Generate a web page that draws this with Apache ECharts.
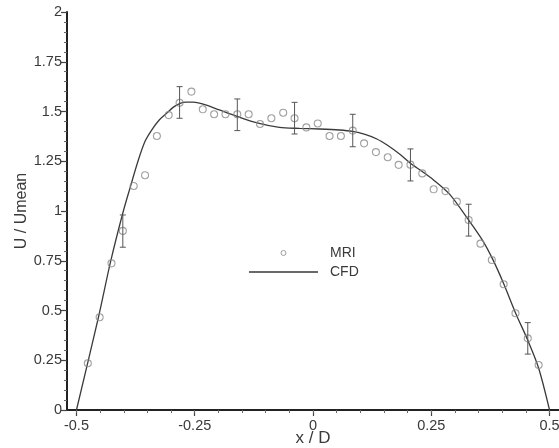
<!DOCTYPE html>
<html>
<head>
<meta charset="utf-8">
<script src="https://cdn.jsdelivr.net/npm/echarts@6/dist/echarts.min.js"></script>
<style>
html,body{margin:0;padding:0;background:#fff;}
#chart{width:559px;height:448px;}
</style>
</head>
<body>
<div id="chart"></div>
<script>
// MRI measurements
var mriX = [-0.476,-0.451,-0.426,-0.402,-0.379,-0.355,-0.330,-0.305,-0.282,-0.257,-0.233,-0.209,-0.185,-0.160,-0.136,-0.112,-0.088,-0.063,-0.039,-0.014,0.010,0.035,0.059,0.084,0.108,0.133,0.158,0.181,0.206,0.231,0.255,0.280,0.304,0.329,0.354,0.378,0.403,0.428,0.454,0.477];
var mriY = [0.235,0.466,0.737,0.90,1.126,1.18,1.377,1.482,1.544,1.60,1.511,1.486,1.486,1.486,1.486,1.437,1.466,1.494,1.466,1.42,1.44,1.377,1.377,1.404,1.34,1.296,1.27,1.232,1.233,1.189,1.109,1.10,1.047,0.955,0.836,0.754,0.632,0.486,0.36,0.226];
// error bars
var errorX = [-0.402,-0.282,-0.160,-0.039,0.084,0.206,0.329,0.454];
var errorLow = [0.818,1.466,1.404,1.387,1.323,1.151,0.874,0.281];
var errorHigh = [0.98,1.625,1.563,1.546,1.486,1.312,1.034,0.439];
// CFD profile
var cfdX = [-0.5,-0.4535,-0.428,-0.402,-0.385,-0.370,-0.355,-0.340,-0.325,-0.310,-0.295,-0.282,-0.268,-0.254,-0.240,-0.227,-0.198,-0.162,-0.120,-0.071,-0.0285,0.0137,0.056,0.0835,0.110,0.135,0.1575,0.183,0.206,0.230,0.253,0.2886,0.3288,0.359,0.380,0.4027,0.4281,0.4541,0.477,0.5];
var cfdY = [0,0.466,0.744,0.99,1.13,1.25,1.35,1.41,1.457,1.49,1.522,1.540,1.547,1.547,1.542,1.533,1.508,1.477,1.444,1.42,1.415,1.412,1.407,1.400,1.385,1.362,1.33,1.286,1.24,1.200,1.160,1.085,0.955,0.850,0.757,0.637,0.488,0.350,0.21,0];
// tick labels
var xMajorTicks = [-0.5,-0.25,0,0.25,0.5];
var xMinorTicks = [-0.5,-0.45,-0.4,-0.35,-0.3,-0.25,-0.2,-0.15,-0.1,-0.05,0,0.05,0.1,0.15,0.2,0.25,0.3,0.35,0.4,0.45,0.5];

var labelFont = 'Liberation Sans, Arial, sans-serif';
var textColor = '#3a3a3a';

var mriData = mriX.map(function(x,i){return [x, mriY[i]];});
var cfdData = cfdX.map(function(x,i){return [x, cfdY[i]];});
var errData = errorX.map(function(x,i){return [x, errorLow[i], errorHigh[i]];});

var chart = echarts.init(document.getElementById('chart'), null, {renderer:'canvas'});
var option = {
  backgroundColor:'#fff',
  animation:false,
  grid:{left:67, top:12, right:0, bottom:38, containLabel:false, outerBoundsMode:'none'},
  legend:{
    orient:'vertical', left:249, top:246, padding:0,
    itemWidth:69, itemHeight:5, itemGap:5,
    data:[
      {name:'MRI', icon:'circle', itemStyle:{color:'rgba(0,0,0,0)', borderColor:'#8a8a8a', borderWidth:1}},
      {name:'CFD', icon:'path://M0,0L0.01,0L0.01,0.01L0,0.01Z M0,1.85L69,1.85L69,3.15L0,3.15Z M0,4.99L0.01,4.99L0.01,5L0,5Z', itemStyle:{color:'#3a3a3a', borderWidth:0}}
    ],
    textStyle:{fontFamily:labelFont, fontSize:14, color:textColor, lineHeight:14, padding:[0,0,0,7]},
    selectedMode:false
  },
  xAxis:[{
    type:'value', min:-0.52, max:0.52,
    axisLine:{onZero:false, lineStyle:{color:'#222', width:2}},
    axisTick:{show:true, customValues:xMajorTicks, length:6, lineStyle:{color:'#444', width:1.2}},
    axisLabel:{customValues:xMajorTicks, fontFamily:labelFont, fontSize:14.5, color:textColor, margin:8,
      formatter:function(v){return String(v);}},
    splitLine:{show:false},
    name:'x / D', nameLocation:'middle', nameGap:20, nameMoveOverlap:false,
    nameTextStyle:{fontFamily:labelFont, fontSize:17, color:textColor}
  },{
    type:'value', min:-0.52, max:0.52, position:'bottom',
    axisLine:{show:false, onZero:false},
    axisTick:{show:true, customValues:xMinorTicks, length:3, lineStyle:{color:'#666', width:1}},
    axisLabel:{show:false},
    splitLine:{show:false}
  }],
  yAxis:{
    type:'value', min:0, max:2, interval:0.25,
    axisLine:{show:true, onZero:false, lineStyle:{color:'#222', width:2}},
    axisTick:{show:true, length:6, lineStyle:{color:'#444', width:1.2}},
    minorTick:{show:true, splitNumber:5, length:3, lineStyle:{color:'#666', width:1}},
    axisLabel:{fontFamily:labelFont, fontSize:14.5, color:textColor, margin:5,
      formatter:function(v){return String(v);}},
    splitLine:{show:false},
    name:'U / Umean', nameLocation:'middle', nameGap:37, nameRotate:90, nameMoveOverlap:false,
    nameTextStyle:{fontFamily:labelFont, fontSize:16, color:textColor}
  },
  series:[{
    name:'CFD', type:'line', data:cfdData, smooth:0.3, symbol:'none',
    lineStyle:{color:'#3a3a3a', width:1.3}, itemStyle:{color:'#3a3a3a'}, z:3
  },{
    name:'MRI', type:'scatter', data:mriData, symbol:'circle', symbolSize:7,
    itemStyle:{color:'rgba(0,0,0,0)', borderColor:'#8a8a8a', borderWidth:1.1}, z:4
  },{
    name:'err', type:'custom', data:errData, z:5,
    renderItem:function(params, api){
      var x = api.value(0);
      var lo = api.coord([x, api.value(1)]);
      var hi = api.coord([x, api.value(2)]);
      var w = 3;
      var st = {stroke:'#555', lineWidth:1, fill:null};
      return {type:'group', children:[
        {type:'line', shape:{x1:lo[0], y1:lo[1], x2:hi[0], y2:hi[1]}, style:st},
        {type:'line', shape:{x1:lo[0]-w, y1:lo[1], x2:lo[0]+w, y2:lo[1]}, style:st},
        {type:'line', shape:{x1:hi[0]-w, y1:hi[1], x2:hi[0]+w, y2:hi[1]}, style:st}
      ]};
    }
  }]
};
chart.setOption(option);
</script>
</body>
</html>
